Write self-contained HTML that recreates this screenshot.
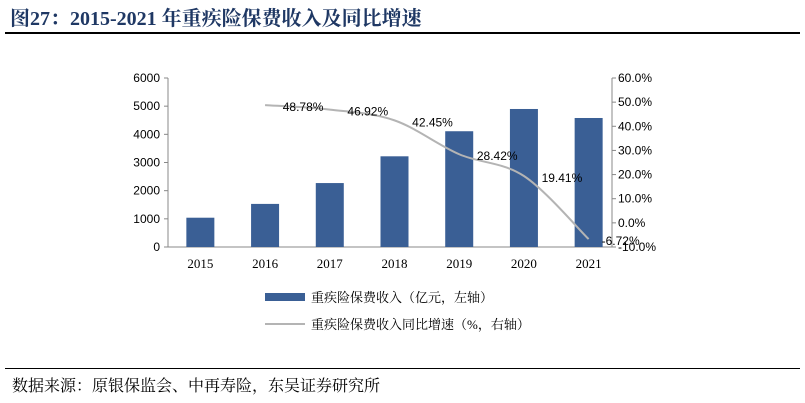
<!DOCTYPE html>
<html><head><meta charset="utf-8"><style>
body{margin:0;width:805px;height:403px;background:#fff;overflow:hidden;font-family:"Liberation Serif","Noto Serif CJK SC",serif}
</style></head><body>
<div style="position:absolute;left:10px;top:2px;font-size:20px;font-weight:bold;color:#1f3864;font-family:'Liberation Serif','Noto Serif CJK SC',serif">图27：2015-2021 年重疾险保费收入及同比增速</div>
<div style="position:absolute;left:5px;top:32px;width:795px;height:2px;background:#000"></div>
<svg id="c" width="805" height="403" style="position:absolute;left:0;top:0"></svg>
<div style="position:absolute;left:5px;top:368px;width:795px;height:1px;background:#000"></div>
<div style="position:absolute;left:12px;top:373px;font-size:16px;color:#000;font-family:'Liberation Serif','Noto Serif CJK SC',serif">数据来源：原银保监会、中再寿险，东吴证券研究所</div>
<script>
const years=['2015','2016','2017','2018','2019','2020','2021'];
const premium=[1040,1530,2270,3220,4110,4900,4580];
const growth=[null,48.78,46.92,42.45,28.42,19.41,-6.72];
const leftTicks=[0,1000,2000,3000,4000,5000,6000];
const rightTicks=[-10,0,10,20,30,40,50,60];
const NS='http://www.w3.org/2000/svg';
const svg=document.getElementById('c');
const x0=168,x1=621,yTop=78,yBot=247;
const band=(x1-x0)/years.length;
const xc=i=>x0+band*(i+0.5);
const yL=v=>yBot-(v/6000)*(yBot-yTop);
const yR=v=>yBot-((v+10)/70)*(yBot-yTop);
function el(t,a,txt){const e=document.createElementNS(NS,t);for(const k in a)e.setAttribute(k,a[k]);if(txt!=null)e.textContent=txt;svg.appendChild(e);return e;}
const font='"Liberation Sans",sans-serif';
let ax=el('line',{x1:x0,y1:yTop,x2:x0,y2:yBot,stroke:'#888'});

ax=el('line',{x1:x0,y1:yBot,x2:612,y2:yBot,stroke:'#888'});

ax=el('line',{x1:612,y1:yTop,x2:612,y2:yBot,stroke:'#888'});

leftTicks.forEach(v=>{
 const t=el('text',{x:x0-8,y:yL(v)+4,'text-anchor':'end','font-size':12,'font-family':font},v);
 
 el('line',{x1:x0-4,y1:yL(v),x2:x0,y2:yL(v),stroke:'#888'});
});
rightTicks.forEach(v=>{
 const t=el('text',{x:618,y:yR(v)+4,'font-size':12,'font-family':font},v.toFixed(1)+'%');
 
 el('line',{x1:612,y1:yR(v),x2:616,y2:yR(v),stroke:'#888'});
});
years.forEach((y,i)=>{
 const t=el('text',{x:xc(i),y:268,'text-anchor':'middle','font-size':13,'font-family':'"Liberation Serif",serif'},y);
 
 const b=el('rect',{x:xc(i)-14,y:yL(premium[i]),width:28,height:yBot-yL(premium[i]),fill:'#3a5f95'});
 
});
const pts=[];growth.forEach((g,i)=>{if(g!=null)pts.push([xc(i),yR(g)]);});
let d='M'+pts[0][0]+','+pts[0][1];
for(let i=0;i<pts.length-1;i++){
 const p0=pts[Math.max(0,i-1)],p1=pts[i],p2=pts[i+1],p3=pts[Math.min(pts.length-1,i+2)];
 const c1=[p1[0]+(p2[0]-p0[0])/6,p1[1]+(p2[1]-p0[1])/6],c2=[p2[0]-(p3[0]-p1[0])/6,p2[1]-(p3[1]-p1[1])/6];
 d+=' C'+c1+' '+c2+' '+p2;
}
const ln=el('path',{d:d,fill:'none',stroke:'#b4b4b4','stroke-width':2});

growth.forEach((g,i)=>{if(g==null)return;
 const t=el('text',{x:xc(i)+(i===growth.length-1?32:38),y:yR(g)+6,'text-anchor':'middle','font-size':12,'font-family':font},g.toFixed(2)+'%');
 
});
let r=el('rect',{x:265,y:293,width:40,height:8,fill:'#3a5f95'});

let lt=el('text',{x:311,y:302,'font-size':13,'font-family':'"Liberation Serif","Noto Serif CJK SC",serif'},'重疾险保费收入（亿元，左轴）');

r=el('line',{x1:265,y1:324,x2:305,y2:324,stroke:'#b4b4b4','stroke-width':2});

lt=el('text',{x:311,y:329,'font-size':13,'font-family':'"Liberation Serif","Noto Serif CJK SC",serif'},'重疾险保费收入同比增速（%，右轴）');

</script>
</body></html>
